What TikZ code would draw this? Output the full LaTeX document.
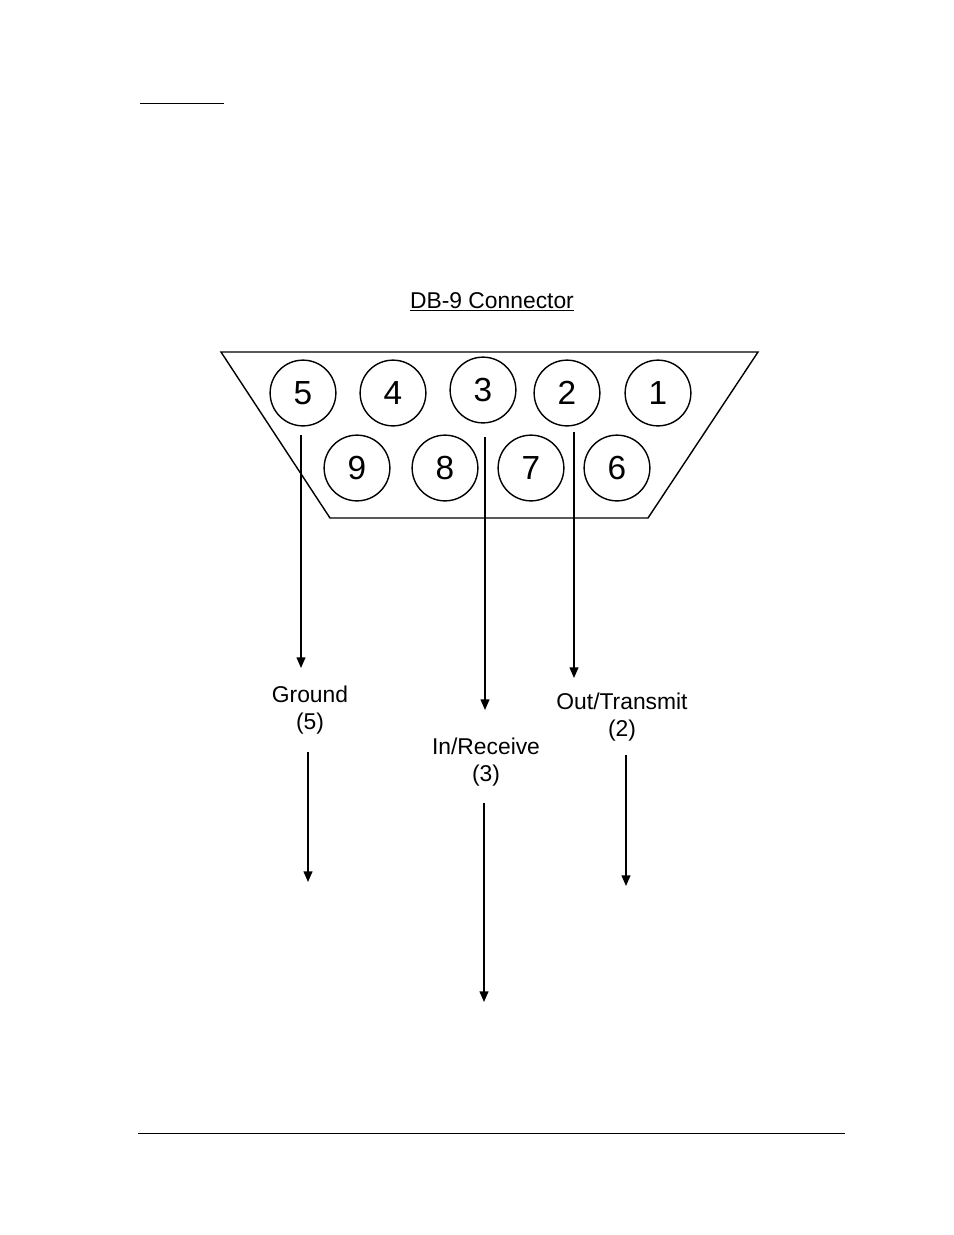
\documentclass[tikz,border=0pt]{standalone}
\usepackage{fontspec}
\setmainfont{Liberation Sans}
\usetikzlibrary{arrows.meta}
\tikzset{
  pin/.style={draw, thick, circle, minimum size=66pt*0.02/0.0352778, inner sep=0pt, font=\fontsize{19}{19}\selectfont},
  lbl/.style={align=center, font=\fontsize{13}{15}\selectfont},
  wire/.style={thick, -{Triangle[length=6pt,width=5pt]}}
}
\begin{document}
\begin{tikzpicture}[x=0.02cm, y=-0.02cm]
    \useasboundingbox (0,0) rectangle (954,1235);

    % Page rules
    \draw (140,103) -- (224,103);
    \draw (138,1133) -- (845,1133);

    % Title
    \node[lbl] (title) at (492,302) {\underline{DB-9 Connector}};

    % Connector shell
    \draw[thick] (221,352) -- (758,352) -- (648,518) -- (330,518) -- cycle;

    % Pins, top row
    \node[pin] (p5) at (303,393) {5};
    \node[pin] (p4) at (393,393) {4};
    \node[pin] (p3) at (483,390) {3};
    \node[pin] (p2) at (567,393) {2};
    \node[pin] (p1) at (658,393) {1};
    % Pins, bottom row
    \node[pin] (p9) at (357,468) {9};
    \node[pin] (p8) at (445,468) {8};
    \node[pin] (p7) at (531,468) {7};
    \node[pin] (p6) at (617,468) {6};

    % Signal labels
    \node[lbl] (gnd) at (310,710) {Ground\\(5)};
    \node[lbl] (rx) at (486,762) {In/Receive\\(3)};
    \node[lbl] (tx) at (622,717) {Out/Transmit\\(2)};

    % Wires from the pins
    \coordinate (w5a) at (301,435);
    \coordinate (w5b) at (301,668);
    \coordinate (w3a) at (485,437);
    \coordinate (w3b) at (485,710);
    \coordinate (w2a) at (574,432);
    \coordinate (w2b) at (574,678);
    \draw[wire] (w5a) -- (w5b);
    \draw[wire] (w3a) -- (w3b);
    \draw[wire] (w2a) -- (w2b);

    % Arrows below the labels
    \coordinate (g0) at (308,752);
    \coordinate (g1) at (308,882);
    \coordinate (r0) at (484,803);
    \coordinate (r1) at (484,1002);
    \coordinate (t0) at (626,755);
    \coordinate (t1) at (626,886);
    \draw[wire] (g0) -- (g1);
    \draw[wire] (r0) -- (r1);
    \draw[wire] (t0) -- (t1);
\end{tikzpicture}
\end{document}
